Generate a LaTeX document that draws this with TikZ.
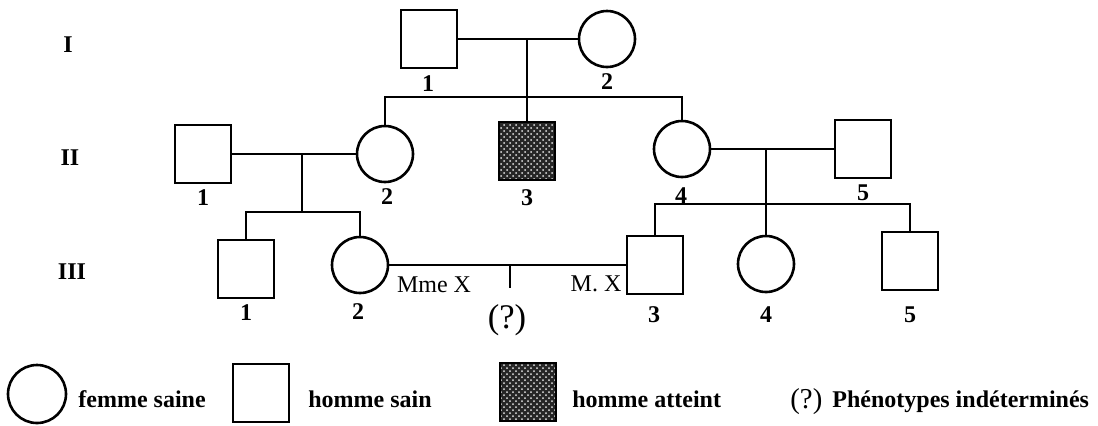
\documentclass[tikz,border=0pt]{standalone}
\usepackage{fontspec}
\setmainfont{Liberation Serif}
\usetikzlibrary{patterns}

\begin{document}
\begin{tikzpicture}[
    x=0.5pt, y=-0.5pt,
    % --- STYLES ---
    male/.style={
            draw,
            rectangle,
            line width=1.3pt,
            minimum width=28pt,
            minimum height=29pt,
            inner sep=0pt
        },
    female/.style={
            draw,
            circle,
            line width=1.3pt,
            minimum size=28pt,
            inner sep=0pt
        },
    affected/.style={
            male,
            preaction={fill=black!85},
            pattern=crosshatch dots,
            pattern color=white!80!gray
        },
    link/.style={line width=1.3pt},
    num/.style={font=\bfseries\large, inner sep=0pt},
    gen/.style={font=\bfseries\large, inner sep=0pt},
    txt/.style={font=\large, inner sep=0pt},
    legend/.style={font=\bfseries\large, inner sep=0pt, anchor=base west}
    ]
    \useasboundingbox (0,0) rectangle (1098,425);

    % --- GENERATIONS ---
    \node[gen] (gI) at (68,45) {I};
    \node[gen] (gII) at (70,158) {II};
    \node[gen] (gIII) at (72,272) {III};

    % --- GENERATION I ---
    \node[male] (I1) at (429,39) {};
    \node[female] (I2) at (607,39) {};
    \node[num] (nI1) at (428,84) {1};
    \node[num] (nI2) at (607,82) {2};

    % --- GENERATION II ---
    \node[male] (II1) at (203,154) {};
    \node[female] (II2) at (385,154) {};
    \node[affected] (II3) at (527,151) {};
    \node[female] (II4) at (682,149) {};
    \node[male] (II5) at (863,149) {};
    \node[num] (nII1) at (203,198) {1};
    \node[num] (nII2) at (387,197) {2};
    \node[num] (nII3) at (527,198) {3};
    \node[num] (nII4) at (681,196) {4};
    \node[num] (nII5) at (863,193) {5};

    % --- GENERATION III ---
    \node[male] (III1) at (246,269) {};
    \node[female] (III2) at (360,265) {};
    \node[male] (III3) at (655,265) {};
    \node[female] (III4) at (766,264) {};
    \node[male] (III5) at (910,261) {};
    \node[num] (nIII1) at (246,313) {1};
    \node[num] (nIII2) at (358,312) {2};
    \node[num] (nIII3) at (654,315) {3};
    \node[num] (nIII4) at (766,315) {4};
    \node[num] (nIII5) at (910,315) {5};

    % --- COUPLES AND SIBSHIPS ---
    \coordinate (m1) at (527,39);
    \coordinate (s1) at (527,97);
    \draw[link] (I1) -- (I2);
    \draw[link] (m1) -- (II3);
    \draw[link] (II2) |- (s1) -| (II4);

    \coordinate (m2) at (302,154);
    \coordinate (s2) at (302,212);
    \draw[link] (II1) -- (II2);
    \draw[link] (m2) -- (s2);
    \draw[link] (III1) |- (s2) -| (III2);

    \coordinate (m3) at (766,149);
    \coordinate (s3) at (766,204);
    \draw[link] (II4) -- (II5);
    \draw[link] (m3) -- (III4);
    \draw[link] (III3) |- (s3) -| (III5);

    % Mme X x M. X
    \coordinate (m4) at (510,265);
    \coordinate (q) at (510,288);
    \draw[link] (III2) -- (III3);
    \draw[link] (m4) -- (q);
    \node[txt] (mme) at (434,285) {Mme X};
    \node[txt] (mx) at (596,284) {M. X};
    \node[font=\LARGE, inner sep=0pt] (unk) at (507,320) {(?)};

    % --- LEGENDE ---
    \node[female, minimum size=29pt] (lf) at (37,394) {};
    \node[legend] at (78,407) {femme saine};
    \node[male] (lm) at (261,393) {};
    \node[legend] at (308,407) {homme sain};
    \node[affected] (la) at (528,392) {};
    \node[legend] at (572,407) {homme atteint};
    \node[legend, font=\Large] (lq) at (790,408) {(?)};
    \node[legend] at (832,407) {Phénotypes indéterminés};

\end{tikzpicture}
\end{document}
